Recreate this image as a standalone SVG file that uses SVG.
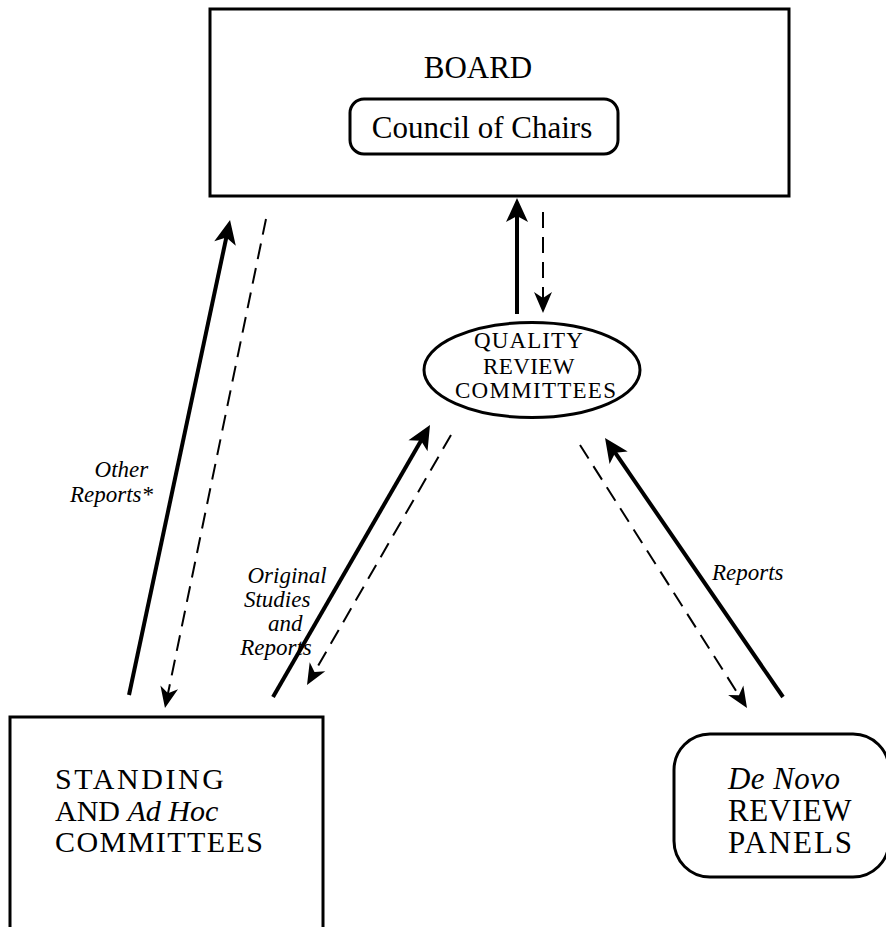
<svg xmlns="http://www.w3.org/2000/svg" width="886" height="927" viewBox="0 0 886 927">
<style>
.box{fill:#fff;stroke:#000;stroke-width:3}
.t{font-family:"Liberation Serif","Times New Roman",serif;fill:#000}
.it{font-style:italic}
.solid{stroke:#000;stroke-width:4;fill:none;marker-end:url(#ah)}
.dash{stroke:#000;stroke-width:2;fill:none;stroke-dasharray:16 9;marker-end:url(#ahd)}
</style>
<defs>
<marker id="ah" markerUnits="userSpaceOnUse" orient="auto" refX="0" refY="0" markerWidth="40" markerHeight="40" viewBox="-20 -20 40 40" overflow="visible">
<path d="M16,0 L-8,-11 L-2,0 L-8,11 Z" fill="#000"/>
</marker>
<marker id="ahd" markerUnits="userSpaceOnUse" orient="auto" refX="0" refY="0" markerWidth="40" markerHeight="40" viewBox="-20 -20 40 40" overflow="visible">
<path d="M14,0 L-7,-9 L-1,0 L-7,9 Z" fill="#000"/>
</marker>
</defs>
<rect width="886" height="927" fill="#fff"/>

<g id="board">
<rect class="box" x="210" y="9" width="579" height="187"/>
<text class="t" x="478" y="78" font-size="31" text-anchor="middle">BOARD</text>
<g id="council">
<rect class="box" x="350" y="99" width="268" height="55" rx="14"/>
<text class="t" x="482" y="138" font-size="31" text-anchor="middle">Council of Chairs</text>
</g>
</g>

<g id="quality">
<ellipse class="box" cx="532" cy="370" rx="108" ry="47.5"/>
<text class="t" font-size="23">
<tspan x="474" y="348" textLength="108" lengthAdjust="spacing">QUALITY</tspan>
<tspan x="483" y="374" textLength="91" lengthAdjust="spacing">REVIEW</tspan>
<tspan x="455" y="398" textLength="161" lengthAdjust="spacing">COMMITTEES</tspan>
</text>
</g>

<g id="standing">
<rect class="box" x="10" y="717" width="313" height="230"/>
<text class="t" font-size="30">
<tspan x="55" y="789" textLength="169" lengthAdjust="spacing">STANDING</tspan>
<tspan x="55" y="821">AND <tspan class="it">Ad Hoc</tspan></tspan>
<tspan x="55" y="852" textLength="208" lengthAdjust="spacing">COMMITTEES</tspan>
</text>
</g>

<g id="denovo">
<rect class="box" x="674" y="734" width="215" height="143" rx="36"/>
<text class="t" font-size="31">
<tspan x="728" y="789" class="it" textLength="112" lengthAdjust="spacing">De Novo</tspan>
<tspan x="728" y="821" textLength="123" lengthAdjust="spacing">REVIEW</tspan>
<tspan x="728" y="853" textLength="124" lengthAdjust="spacing">PANELS</tspan>
</text>
</g>

<g id="connectors">
<path class="solid" d="M517,314 L517,214"/>
<path class="dash" d="M543,212 L543,299"/>
<path class="solid" d="M129,695 L226.7,235.6"/>
<path class="dash" d="M266,219 L167.8,694.3"/>
<path class="solid" d="M273,697 L422,438.9"/>
<path class="dash" d="M451,435 L314,672.9"/>
<path class="solid" d="M783,697 L614.1,451.2"/>
<path class="dash" d="M580,445 L739.5,696.2"/>
</g>

<g id="labels">
<text class="t it" font-size="23" text-anchor="end">
<tspan x="154" y="477">Other</tspan>
<tspan x="153" y="502">Reports*</tspan>
</text>
<text class="t it" font-size="23" text-anchor="middle">
<tspan x="290" y="583">Original</tspan>
<tspan x="280" y="607">Studies</tspan>
<tspan x="288" y="631">and</tspan>
<tspan x="276" y="655">Reports</tspan>
</text>
<text class="t it" font-size="23" x="712" y="580">Reports</text>
</g>
</svg>
